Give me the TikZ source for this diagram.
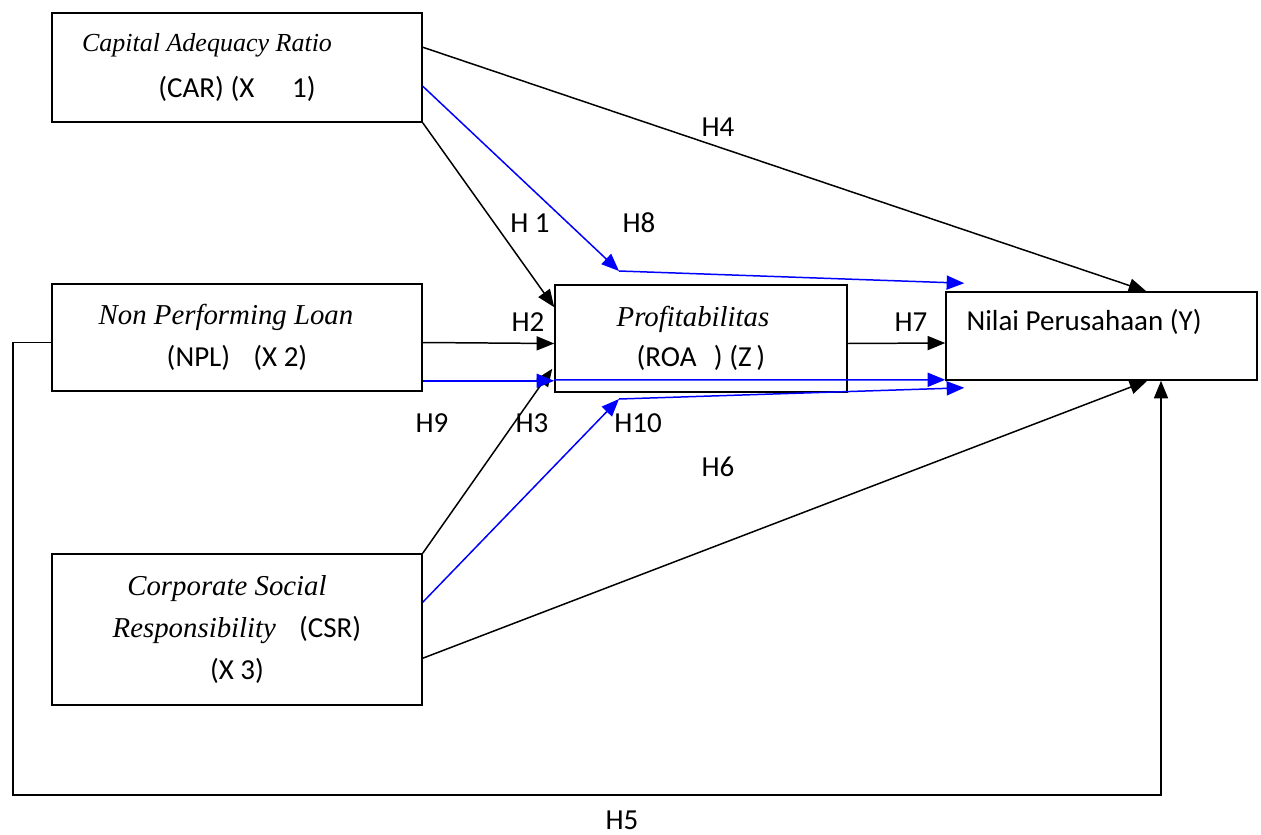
\documentclass[tikz,border=0pt]{standalone}
\usepackage{fontspec}
\setmainfont{Carlito}
\newfontfamily\timesfont{Liberation Serif}
\usepackage{tikz}
\usetikzlibrary{arrows.meta, positioning, calc}
\definecolor{mydark}{RGB}{0,0,0}
\definecolor{myblue}{RGB}{0,0,255}
\newcommand{\ital}[2][16.4]{{\timesfont\itshape\fontsize{#1}{24}\selectfont #2}}
\tikzset{
  varbox/.style={rectangle, draw=mydark, line width=0.9pt, align=center,
    font=\fontsize{16.5}{24}\selectfont, inner sep=0pt},
  arrow/.style={-{Triangle[length=10pt,width=8pt]}, line width=0.85pt, color=mydark},
  bluearrow/.style={-{Triangle[length=10pt,width=8pt]}, line width=0.85pt, color=myblue},
  hlabel/.style={font=\fontsize{16.5}{20}\selectfont, inner sep=0pt}
}

\begin{document}
\begin{tikzpicture}[x=0.02cm, y=-0.02cm]
  \useasboundingbox (0,0) rectangle (1261,835);

  % variables
  \node[varbox, minimum width=7.4cm, minimum height=2.18cm] (car) at (237,67.5)
    {\ital[14.8]{Capital Adequacy Ratio}\hspace*{1.2cm}\\[2.5pt](CAR) (X\hspace{1.3em}1)};
  \node[varbox, minimum width=7.4cm, minimum height=2.14cm] (npl) at (237,337.5)
    {\ital{Non Performing Loan}\hspace*{0.44cm}\\(NPL)\hspace{0.8em}(X 2)};
  \node[varbox, minimum width=7.4cm, minimum height=3.02cm] (csr) at (237,629.5)
    {\ital{Corporate Social}\hspace*{0.4cm}\\\ital{Responsibility}\hspace{0.8em}(CSR)\hspace*{0.4cm}\\(X 3)};
  \node[varbox, minimum width=5.84cm, minimum height=2.14cm] (roa) at (701,338.5)
    {\ital{Profitabilitas}\hspace*{0.32cm}\\[-1.5pt](ROA\hspace{0.6em}) (Z\,)};
  \node[varbox, minimum width=6.22cm, minimum height=1.76cm] (nilai) at (1101.5,336) {};
  \node[hlabel, anchor=west] (nilaitext) at ($(nilai.west)+(21,-14)$) {Nilai Perusahaan (Y)};

  \coordinate (h8bend) at (619,271);
  \coordinate (h10bend) at (619,399);
  \coordinate (h5base) at (1161,795);

  % direct paths
  \draw[arrow] ($(car.north east)+(0,35)$) -- ($(nilai.north west)+(201,0)$);
  \draw[arrow] (car.south east) -- ($(roa.north west)+(0,23)$);
  \draw[arrow] ($(npl.east)+(0,5)$) -- ($(roa.west)+(0,5)$);
  \draw[arrow] (csr.north east) -- ($(roa.south west)+(-2,-24)$);
  \draw[arrow] ($(roa.east)+(0,5)$) -- ($(nilai.west)+(0,7)$);
  \draw[arrow] ($(csr.north east)+(0,105)$) -- ($(nilai.south west)+(202,0)$);
  \draw[arrow] ($(npl.west)+(0,5)$) -- ++(-38,0) |- (h5base) -- (nilai.south west -| h5base);

  % mediated paths
  \draw[bluearrow] ($(car.north east)+(0,74)$) -- (h8bend);
  \draw[bluearrow] (h8bend) -- ($(nilai.north west)+(19,-8)$);
  \draw[bluearrow] ($(npl.south east)+(0,-11)$) -- ($(roa.south west)+(0,-12)$);
  \draw[bluearrow] ($(roa.south west)+(0,-13)$) -- ($(nilai.south west)+(0,-1)$);
  \draw[bluearrow] ($(csr.north east)+(0,49)$) -- (h10bend);
  \draw[bluearrow] (h10bend) -- ($(nilai.south west)+(19,7)$);

  % hypothesis labels
  \node[hlabel] (lblH1) at (530,223) {H 1};
  \node[hlabel] (lblH2) at (528,322) {H2};
  \node[hlabel] (lblH3) at (532,423) {H3};
  \node[hlabel] (lblH4) at (718,127) {H4};
  \node[hlabel] (lblH5) at (622,820) {H5};
  \node[hlabel] (lblH6) at (718,467) {H6};
  \node[hlabel] (lblH7) at (911,322) {H7};
  \node[hlabel] (lblH8) at (639,223) {H8};
  \node[hlabel] (lblH9) at (432,423) {H9};
  \node[hlabel] (lblH10) at (638,423) {H10};
\end{tikzpicture}
\end{document}
